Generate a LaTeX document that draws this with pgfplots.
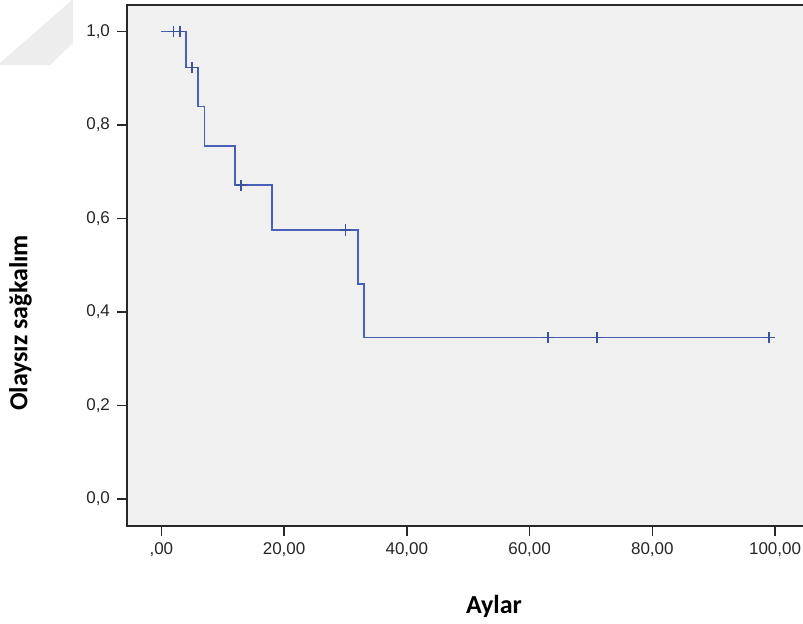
\documentclass[border=0pt]{standalone}
\usepackage{fontspec}
\setmainfont{Liberation Sans}
\newfontfamily\calb{Carlito}
\usepackage{pgfplots}
\pgfplotsset{compat=1.18}
\definecolor{bgc}{RGB}{240,240,240}
\definecolor{band}{RGB}{237,237,237}
\definecolor{kmblue}{RGB}{72,96,184}
\definecolor{frame}{RGB}{40,40,40}
\begin{document}
\begin{tikzpicture}[x=1pt,y=1pt]
\useasboundingbox (0,0) rectangle (401.5,311.5);
\clip (0,0) rectangle (401.5,311.5);
% faint decorative band at top-left
\fill[band] (0,280) -- (36,311.5) -- (36.5,311.5) -- (36.5,290) -- (25,279) -- (0,279) -- cycle;
\begin{axis}[
  at={(63.5pt,48.5pt)}, anchor=south west,
  scale only axis, width=367pt, height=260.5pt,
  xmin=-5.6, xmax=114, ymin=-0.0578, ymax=1.0567,
  axis background/.style={fill=bgc},
  axis line style={draw=frame, line width=0.8pt},
  tick align=outside, major tick length=5pt,
  tick style={draw=frame, line width=0.8pt},
  xtick={0,20,40,60,80,100},
  xticklabels={{,00},{20,00},{40,00},{60,00},{80,00},{100,00}},
  ytick={0,0.2,0.4,0.6,0.8,1.0},
  yticklabels={{0,0},{0,2},{0,4},{0,6},{0,8},{1,0}},
  xtick pos=bottom, ytick pos=left,
  ticklabel style={font=\fontsize{8.5}{10}\selectfont, text=black!85},
  clip=false,
]
\addplot[const plot, kmblue, line width=0.8pt, mark=none] coordinates {
  (0,1) (4,0.92308) (6,0.83916) (7,0.75524) (12,0.67133) (18,0.57543)
  (32,0.46034) (33,0.34526) (99,0.34526)
};
\addplot[only marks, mark=+, mark size=2.8pt, kmblue!85!black, mark options={line width=0.8pt}] coordinates {
  (2,1) (3,1) (5,0.92308) (13,0.67133) (30,0.57543)
  (63,0.34526) (71,0.34526) (99,0.34526)
};
\end{axis}
\node[rotate=90, anchor=base, inner sep=0pt] at (13.7,150) {\calb\bfseries\fontsize{13}{15}\selectfont Olaysız sağkalım};
\node[anchor=base, inner sep=0pt] at (247,4.85) {\calb\bfseries\fontsize{13}{15}\selectfont Aylar};
\end{tikzpicture}
\end{document}
